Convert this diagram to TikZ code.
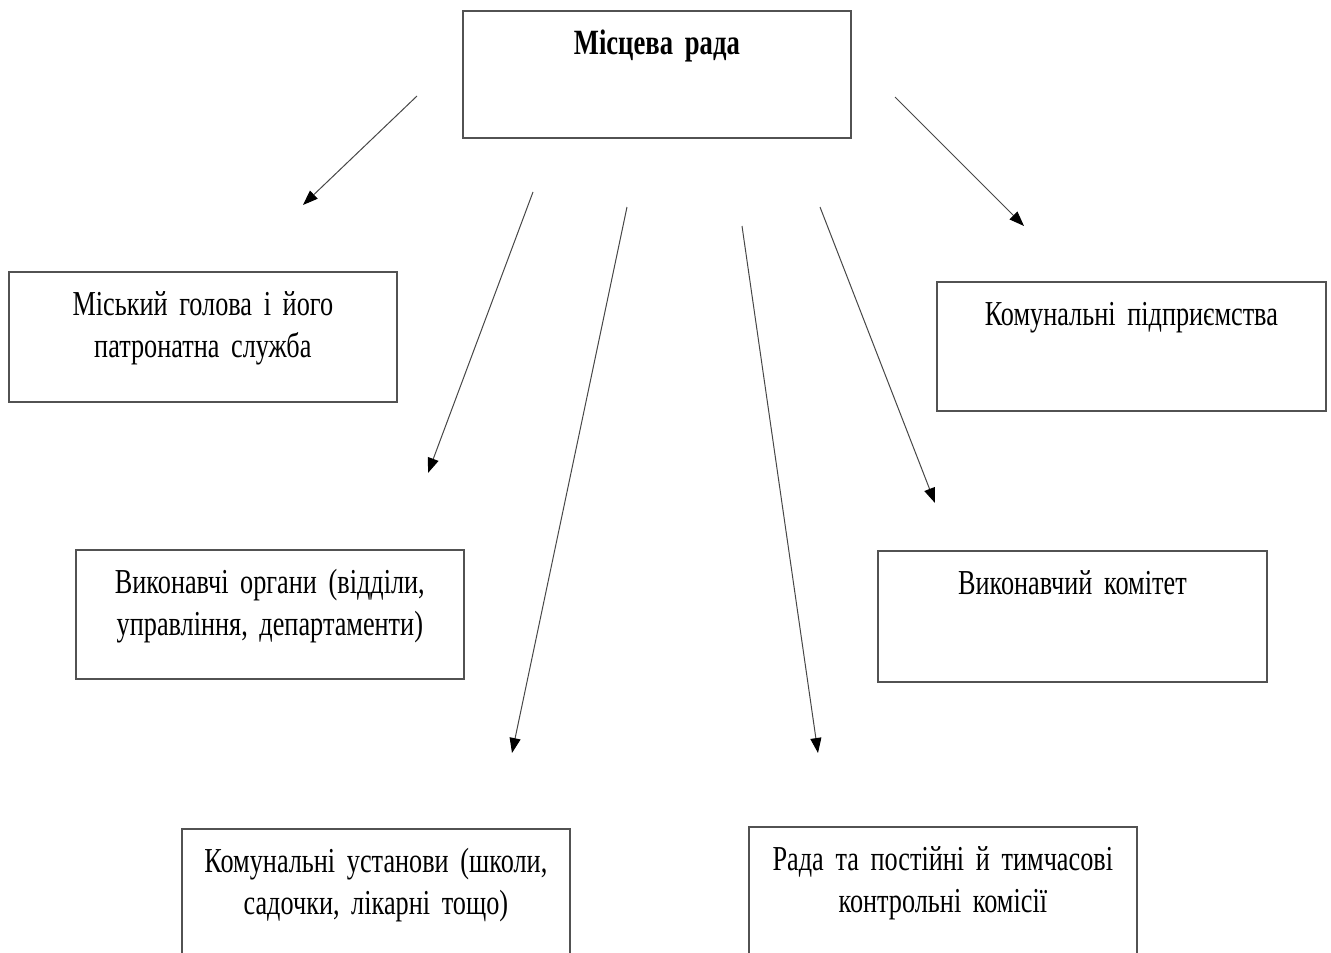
\documentclass[tikz,border=0pt]{standalone}
\usepackage{fontspec}
\setmainfont[FakeStretch=0.75]{Liberation Serif}
\usetikzlibrary{arrows.meta}
\begin{document}
\begin{tikzpicture}[x=1pt,y=-1pt,
  box/.style={draw=black!68, line width=1.7pt, minimum width=388pt,
    minimum height=130pt, inner sep=0pt, anchor=north west},
  lbl/.style={anchor=base, align=center, text width=380pt, inner sep=0pt,
    font=\fontsize{35}{42.5}\selectfont},
  conn/.style={draw=black!72, line width=1pt,
    -{Triangle[length=15pt,width=11pt,color=black]}}]
\useasboundingbox (0,0) rectangle (1331,953);

% boxes (top-left corners)
\node[box, minimum width=388pt, minimum height=127pt] (rada) at (462,10) {};
\node[box, minimum height=130pt] (mayor) at (8,271) {};
\node[box, minimum width=389pt, minimum height=129pt] (enterp) at (936,281) {};
\node[box, minimum height=129pt] (organs) at (75,549) {};
\node[box, minimum width=389pt, minimum height=131pt] (committee) at (877,550) {};
\node[box, minimum height=150pt] (instit) at (181,828) {};
\node[box, minimum height=150pt] (commis) at (748,826) {};

% box texts
\node[lbl, font=\fontsize{35.5}{42.5}\selectfont\bfseries] (radaT)
  at ([yshift=-44pt]rada.north) {Місцева рада};
\node[lbl] (mayorT) at ([yshift=-44pt]mayor.north)
  {Міський голова і його\\патронатна служба};
\node[lbl] (enterpT) at ([yshift=-44pt]enterp.north)
  {Комунальні підприємства};
\node[lbl] (organsT) at ([yshift=-44pt]organs.north)
  {Виконавчі органи (відділи,\\управління, департаменти)};
\node[lbl] (committeeT) at ([yshift=-44pt]committee.north)
  {Виконавчий комітет};
\node[lbl] (institT) at ([yshift=-44pt]instit.north)
  {Комунальні установи (школи,\\садочки, лікарні тощо)};
\node[lbl] (commisT) at ([yshift=-44pt]commis.north)
  {Рада та постійні й тимчасові\\контрольні комісії};

% arrow ends
\coordinate (a1s) at (417,96);  \coordinate (a1e) at (303,205);
\coordinate (a2s) at (533,192); \coordinate (a2e) at (428,473);
\coordinate (a3s) at (627,207); \coordinate (a3e) at (512,753);
\coordinate (a4s) at (742,226); \coordinate (a4e) at (818,753);
\coordinate (a5s) at (820,207); \coordinate (a5e) at (935,503);
\coordinate (a6s) at (895,97);  \coordinate (a6e) at (1024,226);

\draw[conn] (a1s) -- (a1e);
\draw[conn] (a2s) -- (a2e);
\draw[conn] (a3s) -- (a3e);
\draw[conn] (a4s) -- (a4e);
\draw[conn] (a5s) -- (a5e);
\draw[conn] (a6s) -- (a6e);
\end{tikzpicture}
\end{document}
